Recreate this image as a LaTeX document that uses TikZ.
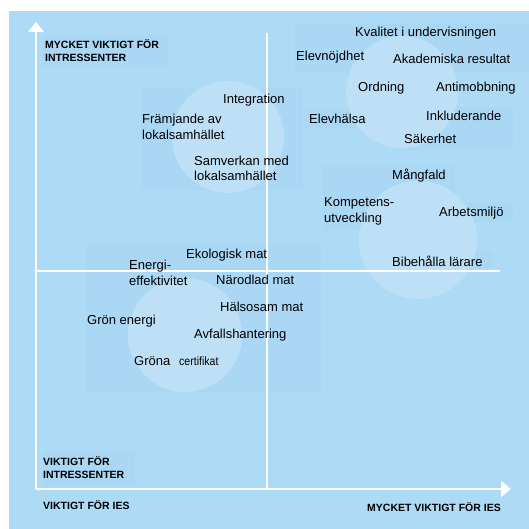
\documentclass[tikz,border=0pt]{standalone}
\usepackage{fontspec}
\setmainfont{Liberation Sans}
\newfontfamily\condfont[FakeStretch=0.88]{Liberation Sans}
\usetikzlibrary{arrows.meta}
\definecolor{bgblue}{RGB}{173,218,245}
\definecolor{circblue}{RGB}{190,224,246}
\definecolor{rectblue}{RGB}{170,215,244}
\begin{document}
\begin{tikzpicture}[x=1pt,y=-1pt,
  lbl/.style={font=\fontsize{13}{15}\selectfont, inner sep=0pt, anchor=base west, text=black},
  axlbl/.style={font=\fontsize{10.5}{12}\selectfont\bfseries, inner sep=0pt, anchor=base west, text=black},
  axisline/.style={draw=white, line width=1.6pt},
  shade/.style={fill=rectblue},
  blob/.style={fill=circblue}]
\useasboundingbox (0,0) rectangle (529,529);
\fill[white] (0,0) rectangle (529,529);
\fill[bgblue] (9,11) rectangle (529,529);
% subtle rectangles
\fill[shade] (43,35) rectangle (168,67);
\fill[shade] (141,88) rectangle (303,190);
\fill[shade] (86,244) rectangle (321,393);
\fill[shade] (295,23) rectangle (529,72);
\fill[shade] (323,165) rectangle (455,230);
\fill[shade] (438,202) rectangle (513,222);
\fill[shade] (405,107) rectangle (513,150);
\fill[shade] (305,110) rectangle (370,128);
\fill[shade] (388,252) rectangle (492,269);
\fill[shade] (43,452) rectangle (135,486);
% circles
\fill[blob] (228,137) circle[radius=56];
\fill[blob] (402,92) circle[radius=56];
\fill[blob] (418,240) circle[radius=59];
\fill[blob] (185,335) circle[radius=57];
% axes
\coordinate (orig) at (36,489);
\coordinate (ytop) at (36,22);
\coordinate (xend) at (511,489);
\coordinate (midtop) at (267,33);
\coordinate (midbot) at (267,489);
\coordinate (hl) at (36,271);
\coordinate (hr) at (500,271);
\draw[axisline,-{Triangle[width=16pt,length=10pt]},color=white] (orig) -- (ytop);
\draw[axisline,-{Triangle[width=16pt,length=10pt]},color=white] (orig) -- (xend);
\draw[axisline] (midtop) -- (midbot);
\draw[axisline] (hl) -- (hr);
% axis labels
\node[axlbl] (yhiA) at (45,48.3) {MYCKET VIKTIGT FÖR};
\node[axlbl] (yhiB) at (45,62) {INTRESSENTER};
\node[axlbl] (yloA) at (43,465.3) {VIKTIGT FÖR};
\node[axlbl] (yloB) at (43,478.5) {INTRESSENTER};
\node[axlbl] (xlo) at (43,509.5) {VIKTIGT FÖR IES};
\node[axlbl, anchor=base east] (xhi) at (501,511.7) {MYCKET VIKTIGT FÖR IES};
% items
\node[lbl] (kval) at (355,36.7) {Kvalitet i undervisningen};
\node[lbl] (elevn) at (296,61) {Elevnöjdhet};
\node[lbl] (akad) at (393,64) {Akademiska resultat};
\node[lbl] (ordn) at (358,92) {Ordning};
\node[lbl] (anti) at (436,92) {Antimobbning};
\node[lbl] (elevh) at (309,123.6) {Elevhälsa};
\node[lbl] (inkl) at (426,120.7) {Inkluderande};
\node[lbl] (saker) at (404,143.7) {Säkerhet};
\node[lbl] (mangf) at (392,179.7) {Mångfald};
\node[lbl] (integ) at (223,103.3) {Integration};
\node[lbl] (framA) at (142,123.3) {Främjande av};
\node[lbl] (framB) at (142,140) {lokalsamhället};
\node[lbl] (samvA) at (194,166) {Samverkan med};
\node[lbl] (samvB) at (194,181) {lokalsamhället};
\node[lbl] (kompA) at (324,206) {Kompetens-};
\node[lbl] (kompB) at (324,222.7) {utveckling};
\node[lbl] (arbm) at (439,216.7) {Arbetsmiljö};
\node[lbl] (bibeh) at (392,266) {Bibehålla lärare};
\node[lbl] (ekol) at (186,258.7) {Ekologisk mat};
\node[lbl] (enA) at (129,269) {Energi-};
\node[lbl] (enB) at (129,285) {effektivitet};
\node[lbl] (narod) at (216,284) {Närodlad mat};
\node[lbl] (halso) at (220,311) {Hälsosam mat};
\node[lbl] (gronen) at (87,324) {Grön energi};
\node[lbl] (avfall) at (194,338) {Avfallshantering};
\node[lbl] (grona) at (134,365.7) {Gröna};
\node[lbl, font=\condfont\fontsize{12}{14}\selectfont] (cert) at (179,365.7) {certifikat};
\end{tikzpicture}
\end{document}
